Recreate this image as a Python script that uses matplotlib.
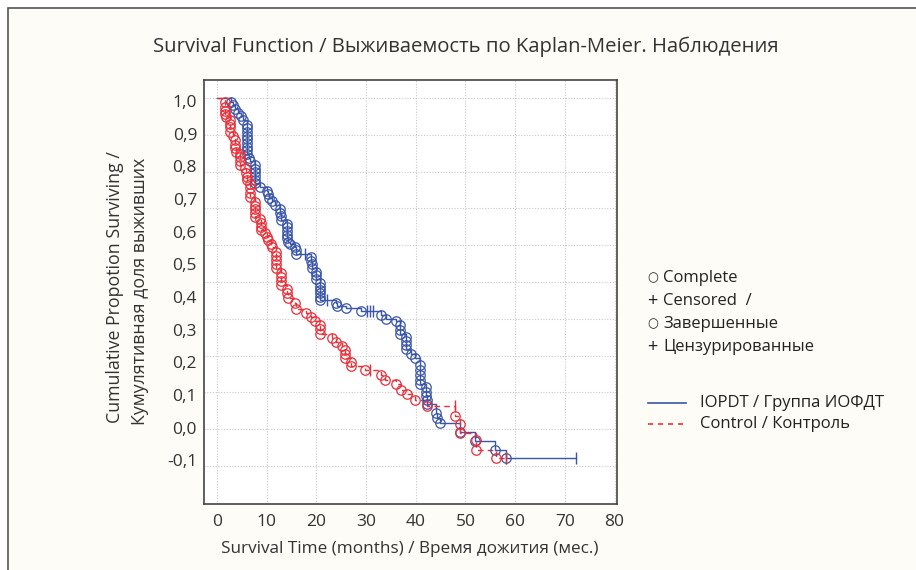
import numpy as np
import matplotlib.pyplot as plt
from matplotlib.patches import Rectangle
from matplotlib.lines import Line2D

plt.rcParams['font.family'] = ['Open Sans', 'DejaVu Sans']

# IOPDT group: time of each complete event (months) and survival after it
iopdt_time = [2.8, 3.3, 3.7, 4.3, 4.8, 5.2,
              6.0, 6.0, 6.0, 6.0, 6.0, 6.0, 6.0, 6.0, 6.0, 6.5, 6.7,
              7.6, 7.6, 7.6, 7.6, 7.6, 7.7, 8.7, 10.0, 10.2, 10.5, 11.0, 11.7,
              12.7, 12.7, 12.8, 12.8, 14.0, 14.0, 14.1, 14.1, 14.1, 14.3, 14.7,
              15.7, 15.9, 15.9, 19.0, 19.0, 19.1, 19.1, 19.9, 20.0, 20.0,
              20.8, 20.8, 20.8, 20.8, 20.8, 20.8, 23.9, 24.1, 25.9, 28.9,
              33.0, 34.0, 36.0, 36.8, 36.9, 36.9, 38.0, 38.0, 38.1, 38.1,
              39.0, 39.8, 40.8, 40.8, 40.8, 40.8, 40.9, 42.1, 42.1, 42.1,
              42.2, 42.2, 44.1, 44.3, 44.9, 49.0, 52.0, 55.9, 58.1]
iopdt_surv = [0.990, 0.980, 0.970, 0.960, 0.950, 0.940,
              0.928, 0.918, 0.908, 0.898, 0.888, 0.878, 0.868, 0.858, 0.848, 0.838, 0.828,
              0.818, 0.808, 0.798, 0.788, 0.778, 0.768, 0.757, 0.748, 0.739, 0.729, 0.719, 0.709,
              0.699, 0.689, 0.679, 0.669, 0.659, 0.649, 0.639, 0.629, 0.619, 0.610, 0.603,
              0.596, 0.587, 0.577, 0.568, 0.558, 0.549, 0.539, 0.528, 0.519, 0.508,
              0.497, 0.487, 0.478, 0.469, 0.460, 0.451, 0.444, 0.436, 0.429, 0.422,
              0.411, 0.400, 0.393, 0.383, 0.371, 0.360, 0.350, 0.339, 0.328, 0.317,
              0.304, 0.293, 0.276, 0.262, 0.248, 0.235, 0.223, 0.214, 0.202, 0.191,
              0.180, 0.169, 0.145, 0.131, 0.117, 0.093, 0.069, 0.045, 0.021]
iopdt_cens_time = [17.7, 22.1, 30.1, 30.8, 31.4, 58.1, 72.3]
iopdt_cens_surv = [0.577, 0.451, 0.422, 0.422, 0.422, 0.021, 0.021]

# Control group
control_time = [1.6, 1.6, 1.6, 1.6, 1.8, 2.6, 2.7, 2.7, 2.7, 3.3, 3.6, 3.6, 3.6, 3.8,
                4.6, 4.7, 4.7, 4.7, 5.6, 5.8, 6.0, 6.0, 6.6, 6.7, 6.7, 6.7,
                7.6, 7.6, 7.6, 7.6, 7.6, 8.7, 8.8, 8.8, 8.8, 9.7, 10.0, 10.3, 10.8, 11.0,
                11.9, 11.9, 11.9, 11.9, 11.9, 12.8, 12.8, 12.8, 12.8, 14.1, 14.1, 14.3,
                15.7, 15.9, 17.9, 18.9, 19.7, 20.7, 20.8, 20.8, 23.1, 23.9, 25.1,
                25.8, 25.8, 25.8, 26.9, 26.9, 29.8, 33.1, 33.8, 36.0, 37.0, 38.2,
                39.8, 42.2, 48.0, 49.0, 49.0, 52.1, 52.1, 56.1]
control_surv = [0.988, 0.977, 0.966, 0.957, 0.948, 0.939, 0.930, 0.920, 0.909, 0.896,
                0.885, 0.873, 0.863, 0.854, 0.848, 0.840, 0.830, 0.818, 0.809, 0.797,
                0.786, 0.777, 0.766, 0.755, 0.743, 0.732, 0.718, 0.707, 0.698, 0.687,
                0.677, 0.670, 0.661, 0.650, 0.641, 0.632, 0.623, 0.614, 0.603, 0.594,
                0.581, 0.570, 0.559, 0.549, 0.537, 0.525, 0.514, 0.503, 0.492, 0.481,
                0.469, 0.456, 0.442, 0.426, 0.415, 0.406, 0.394, 0.383, 0.372, 0.359,
                0.347, 0.338, 0.326, 0.315, 0.304, 0.293, 0.284, 0.271, 0.261, 0.247,
                0.234, 0.223, 0.208, 0.196, 0.179, 0.163, 0.137, 0.115, 0.091, 0.071,
                0.045, 0.021]
control_cens_time = [30.9, 48.0, 58.1]
control_cens_surv = [0.261, 0.163, 0.021]

x_ticks = [0, 10, 20, 30, 40, 50, 60, 70, 80]
y_grid = [0.0, 0.1, 0.2, 0.3, 0.4, 0.5, 0.6, 0.7, 0.8, 0.9, 1.0]
y_tick_labels = ['1,0', '0,9', '0,8', '0,7', '0,6', '0,5', '0,4', '0,3', '0,2', '0,1', '0,0', '-0,1']

legend_symbols = ['○', '+', '○', '+']
legend_words = ['Complete', 'Censored  /', 'Завершенные', 'Цензурированные']

blue = '#3a56a8'
red = '#e8303a'
grey_txt = '#333333'

fig = plt.figure(figsize=(9.16, 5.70), dpi=100)
fig.patch.set_facecolor('white')
# cream panel with a grey border on top / left
fig.add_artist(Rectangle((8 / 916, -0.05), 1.1, 1.05 - 8 / 570,
                         transform=fig.transFigure, facecolor='#fdfcf7',
                         edgecolor='#555555', lw=1.2, zorder=0))

ax = fig.add_axes([204 / 916, 66 / 570, 413 / 916, 424 / 570])
ax.set_facecolor('white')


def draw_group(t, s, ct, cs, color, ls):
    line_t = [0.0] + t + [max(t + ct)]
    line_s = [1.0] + s + [s[-1]]
    ax.plot(line_t, line_s, drawstyle='steps-post', color=color, lw=1.0, ls=ls, zorder=3)
    ax.plot(t, s, 'o', mfc='none', mec=color, ms=6.8, mew=0.9, zorder=4)
    ax.plot(ct, cs, '|', color=color, ms=9, mew=1.0, zorder=4)


draw_group(iopdt_time, iopdt_surv, iopdt_cens_time, iopdt_cens_surv, blue, '-')
draw_group(control_time, control_surv, control_cens_time, control_cens_surv, red, (0, (4, 3)))

ax.set_xlim(-2.6, 80.5)
ax.set_ylim(-0.103, 1.049)
ax.set_xticks(x_ticks)
ax.set_xticklabels([str(v) for v in x_ticks])
# grid sits on the 0.1 steps, the printed labels are spaced a bit tighter
ax.set_yticks(y_grid, minor=True)
ax.set_yticks(np.linspace(0.992, 0.016, 12))
ax.set_yticklabels(y_tick_labels)
ax.grid(which='minor', axis='y', color='#c8c8c8', lw=0.8, ls=(0, (1, 1.5)))
ax.grid(which='major', axis='x', color='#c8c8c8', lw=0.8, ls=(0, (1, 1.5)))
ax.tick_params(which='both', length=0, labelsize=12.5, colors=grey_txt)
ax.tick_params(axis='x', pad=7)
ax.tick_params(axis='y', pad=5)
for sp in ax.spines.values():
    sp.set_color('#444444')
    sp.set_linewidth(1.2)

fig.text(466 / 916, 1 - 47 / 570, 'Survival Function / Выживаемость по Kaplan-Meier. Наблюдения',
         ha='center', va='center', fontsize=14.6, color=grey_txt)
fig.text(410 / 916, 1 - 549 / 570, 'Survival Time (months) / Время дожития (мес.)',
         ha='center', va='center', fontsize=12.3, color=grey_txt)
fig.text(115 / 916, 1 - 287 / 570, 'Cumulative Propotion Surviving /',
         ha='center', va='center', rotation=90, fontsize=12.8, color=grey_txt)
fig.text(140 / 916, 1 - 291 / 570, 'Кумулятивная доля выживших',
         ha='center', va='center', rotation=90, fontsize=12.8, color=grey_txt)

for i, (sym, word) in enumerate(zip(legend_symbols, legend_words)):
    y = 1 - (278 + 23 * i) / 570
    fig.text(647 / 916, y, sym, ha='left', va='center',
             fontsize=9 if sym == '○' else 13, color='#222222')
    fig.text(663 / 916, y, word, ha='left', va='center', fontsize=12, color='#222222')

fig.add_artist(Line2D([648 / 916, 686 / 916], [1 - 403 / 570] * 2, color=blue, lw=1.2,
                      transform=fig.transFigure))
fig.add_artist(Line2D([648 / 916, 686 / 916], [1 - 424 / 570] * 2, color=red, lw=1.2,
                      ls=(0, (3, 3)), transform=fig.transFigure))
fig.text(700 / 916, 1 - 403 / 570, 'IOPDT / Группа ИОФДТ', ha='left', va='center',
         fontsize=12, color='#222222')
fig.text(700 / 916, 1 - 424 / 570, 'Control / Контроль', ha='left', va='center',
         fontsize=12, color='#222222')

fig.savefig('out.png', dpi=100, facecolor=fig.get_facecolor())
